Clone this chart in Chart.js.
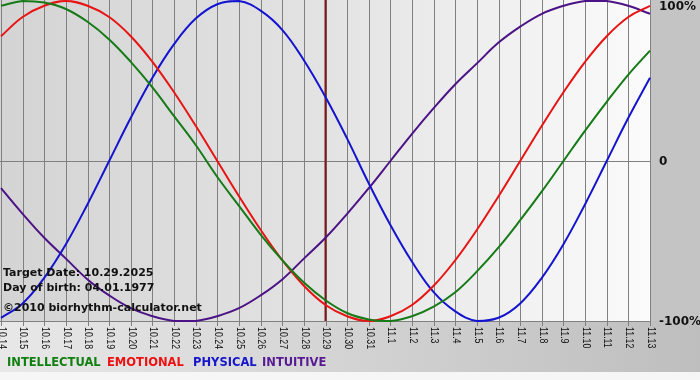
<!DOCTYPE html>
<html>
<head>
<meta charset="utf-8">
<script src="https://cdn.jsdelivr.net/npm/chart.js@4"></script>
<style>
html,body{margin:0;padding:0;background:#fff;}
#wrap{width:700px;height:380px;}
canvas{display:block;}
</style>
</head>
<body>
<div id="wrap"><canvas id="c" width="700" height="380"></canvas></div>
<script>
const xLabels = ['10.14','10.15','10.16','10.17','10.18','10.19','10.20','10.21','10.22','10.23','10.24','10.25','10.26','10.27','10.28','10.29','10.30','10.31','11.1','11.2','11.3','11.4','11.5','11.6','11.7','11.8','11.9','11.10','11.11','11.12','11.13'];
const intellectual = [97, 100, 99, 95, 87, 76, 62, 46, 28, 10, -10, -28, -46, -62, -76, -87, -95, -99, -100, -97, -91, -82, -69, -54, -37, -19, 0, 19, 37, 54, 69];
const emotional = [78, 90, 97, 100, 97, 90, 78, 62, 43, 22, 0, -22, -43, -62, -78, -90, -97, -100, -97, -90, -78, -62, -43, -22, 0, 22, 43, 62, 78, 90, 97];
const physical = [-98, -89, -73, -52, -27, 0, 27, 52, 73, 89, 98, 100, 94, 82, 63, 40, 14, -14, -40, -63, -82, -94, -100, -98, -89, -73, -52, -27, 0, 27, 52];
const intuitive = [-17, -33, -48, -61, -74, -84, -92, -97, -100, -100, -97, -92, -84, -74, -61, -48, -33, -17, 0, 17, 33, 48, 61, 74, 84, 92, 97, 100, 100, 97, 92];
const yTicks = [100, 0, -100];
const yTickLabels = ['100%', '0', '-100%'];
const targetIndex = 15;
const seriesNames = ['INTELLECTUAL', 'EMOTIONAL', 'PHYSICAL', 'INTUITIVE'];
const infoLines = ['Target Date: 10.29.2025', 'Day of birth: 04.01.1977', '\u00A92010 biorhythm-calculator.net'];

const lineColors = ['#167a16', '#e81414', '#1414d0', '#4c1386'];
const legendColors = ['#118011', '#ee1111', '#1515cc', '#581a94'];
const legendX = [7, 107, 193, 262];

const decor = {
  id: 'decor',
  beforeDraw(chart) {
    const ctx = chart.ctx;
    const a = chart.chartArea;
    const xs = chart.scales.x, ys = chart.scales.y;
    ctx.save();
    // outer background
    let g = ctx.createLinearGradient(0, 0, 700, 0);
    g.addColorStop(0, '#e8e8e8');
    g.addColorStop(1, '#bebebe');
    ctx.fillStyle = g;
    ctx.fillRect(0, 0, 700, 380);
    ctx.fillStyle = '#c4c4c4';
    ctx.fillRect(a.right + 1, 0, 700 - a.right - 1, a.bottom);
    ctx.fillStyle = '#f6f6f6';
    ctx.fillRect(0, 372, 700, 8);
    // plot area
    g = ctx.createLinearGradient(0, 0, a.right, 0);
    g.addColorStop(0, '#d4d4d4');
    g.addColorStop(0.5, '#e3e3e3');
    g.addColorStop(1, '#fbfbfb');
    ctx.fillStyle = g;
    ctx.fillRect(0, 0, a.right + 1, a.bottom);
    // vertical grid + ticks
    ctx.strokeStyle = '#808080';
    ctx.lineWidth = 1;
    for (let i = 0; i < xLabels.length; i++) {
      const x = Math.round(xs.getPixelForValue(i)) + 0.5;
      ctx.beginPath();
      ctx.moveTo(x, 0);
      ctx.lineTo(x, a.bottom + 5);
      ctx.stroke();
    }
    // zero line and bottom axis line
    const y0 = Math.round(ys.getPixelForValue(0)) + 0.5;
    ctx.beginPath();
    ctx.moveTo(0, y0); ctx.lineTo(a.right + 1, y0); ctx.stroke();
    const yb = Math.round(ys.getPixelForValue(-100)) + 0.5;
    ctx.beginPath();
    ctx.moveTo(0, yb); ctx.lineTo(a.right + 1, yb); ctx.stroke();
    // target date line
    const tx = xs.getPixelForValue(targetIndex);
    ctx.strokeStyle = '#7d1818';
    ctx.lineWidth = 2;
    ctx.beginPath();
    ctx.moveTo(tx, 0); ctx.lineTo(tx, a.bottom);
    ctx.stroke();
    // x tick labels (rotated clockwise)
    ctx.fillStyle = '#111';
    ctx.font = '10px "Liberation Sans"';
    ctx.textAlign = 'left';
    ctx.textBaseline = 'middle';
    for (let i = 0; i < xLabels.length; i++) {
      const x = xs.getPixelForValue(i);
      ctx.save();
      ctx.translate(x + 0.5, a.bottom + 6);
      ctx.rotate(Math.PI / 2);
      ctx.scale(0.88, 1);
      ctx.fillText(xLabels[i], 0, 0);
      ctx.restore();
    }
    // y tick labels on the right
    ctx.font = 'bold 12px "DejaVu Sans"';
    ctx.fillStyle = '#111';
    for (let j = 0; j < yTicks.length; j++) {
      let y = ys.getPixelForValue(yTicks[j]);
      y = Math.max(y, 6);
      ctx.fillText(yTickLabels[j], a.right + 9, y + 1);
    }
    // legend
    ctx.font = 'bold 11.5px "DejaVu Sans"';
    ctx.textBaseline = 'alphabetic';
    for (let k = 0; k < seriesNames.length; k++) {
      ctx.fillStyle = legendColors[k];
      ctx.fillText(seriesNames[k], legendX[k], 366);
    }
    ctx.restore();
  },
  afterDatasetsDraw(chart) {
    const ctx = chart.ctx;
    ctx.save();
    ctx.font = 'bold 11px "DejaVu Sans"';
    ctx.fillStyle = '#111';
    ctx.textAlign = 'left';
    ctx.textBaseline = 'alphabetic';
    const ys = [276, 291, 311];
    for (let i = 0; i < infoLines.length; i++) ctx.fillText(infoLines[i], 3, ys[i]);
    ctx.restore();
  }
};

const series = [intellectual, emotional, physical, intuitive];
new Chart(document.getElementById('c'), {
  type: 'line',
  data: {
    labels: xLabels,
    datasets: series.map((d, k) => ({
      label: seriesNames[k],
      data: d,
      borderColor: lineColors[k],
      borderWidth: 2,
      pointRadius: 0,
      tension: 0.4,
      fill: false,
      clip: false
    }))
  },
  options: {
    responsive: false,
    animation: false,
    devicePixelRatio: 1,
    layout: { padding: { left: 1, top: 1, right: 50, bottom: 59 } },
    plugins: { legend: { display: false }, tooltip: { enabled: false } },
    scales: {
      x: { type: 'category', display: false, offset: false },
      y: { display: false, min: -100, max: 100 }
    }
  },
  plugins: [decor]
});
</script>
</body>
</html>
